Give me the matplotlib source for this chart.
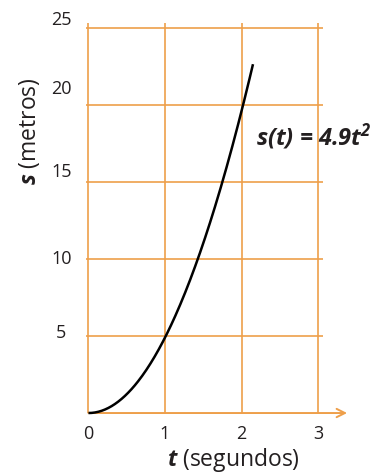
import matplotlib
matplotlib.use('Agg')
import matplotlib.pyplot as plt
import numpy as np

plt.rcParams['font.family'] = ['Open Sans', 'DejaVu Sans']
plt.rcParams['mathtext.fontset'] = 'custom'
plt.rcParams['mathtext.rm'] = 'Open Sans'
plt.rcParams['mathtext.it'] = 'Open Sans:italic'
plt.rcParams['mathtext.bf'] = 'Open Sans:bold'
plt.rcParams['mathtext.bfit'] = 'Open Sans:italic:bold'

# grid and ticks
t_ticks = [0, 1, 2, 3]
s_ticks = [5, 10, 15, 20, 25]
s_labels = ['5', '10', '15', '20', '25']
# how far each s label sits above its grid line (points)
s_label_lift = [2, 0, 7, 11.5, 5.8]

# s(t) = 4.9 t^2, drawn up to t = 2.15
g_half = 4.9
t_end = 2.15

orange = '#EE9F4A'
ink = '#231F20'

fig = plt.figure(figsize=(3.81, 4.74), dpi=100)
ax = fig.add_axes([0.1921, 0.1124, 0.7430, 0.8610])
ax.set_xlim(-0.2, 3.5)
ax.set_ylim(-0.5, 26)

for side in ax.spines.values():
    side.set_visible(False)

# orange grid
ax.vlines(t_ticks, 0, s_ticks[-1] + 0.3, colors=orange, lw=1.2, zorder=1)
ax.hlines(s_ticks, -0.03, 3.06, colors=orange, lw=1.2, zorder=1)

# t axis with arrow
ax.annotate('', xy=(3.38, 0), xytext=(0, 0),
            arrowprops=dict(arrowstyle='->,head_length=0.6,head_width=0.3',
                            color=orange, lw=1.4, shrinkA=0, shrinkB=0),
            zorder=2)

# the curve
t = np.linspace(0, t_end, 200)
ax.plot(t, g_half * t ** 2, color='black', lw=1.8, zorder=3,
        solid_capstyle='butt')

ax.text(2.19, 17.9, r's(t) = 4.9$\mathbfit{t}^{\mathbfit{2}}$', fontsize=17,
        fontweight='bold', style='italic', color=ink, ha='left', va='center')

# t tick labels
ax.set_xticks(t_ticks)
ax.set_xticklabels([str(v) for v in t_ticks])
ax.tick_params(axis='x', length=0, labelsize=13, labelcolor=ink, pad=3)

# s tick labels, drawn by hand so each can sit a little above its line
ax.set_yticks([])
for v, lab, lift in zip(s_ticks, s_labels, s_label_lift):
    ax.annotate(lab, xy=(0, v), xytext=(-19.5, lift), textcoords='offset points',
                ha='center', va='center', fontsize=13, color=ink)

fig.text(29 / 381, 1 - 131 / 474, r'$\mathbfit{s}$ (metros)', rotation=90,
         fontsize=16.5, color=ink, ha='center', va='center')
fig.text(233 / 381, 1 - 460 / 474, r'$\mathbfit{t}$ (segundos)',
         fontsize=16.5, color=ink, ha='center', va='center')

fig.savefig('out.png', dpi=100)
